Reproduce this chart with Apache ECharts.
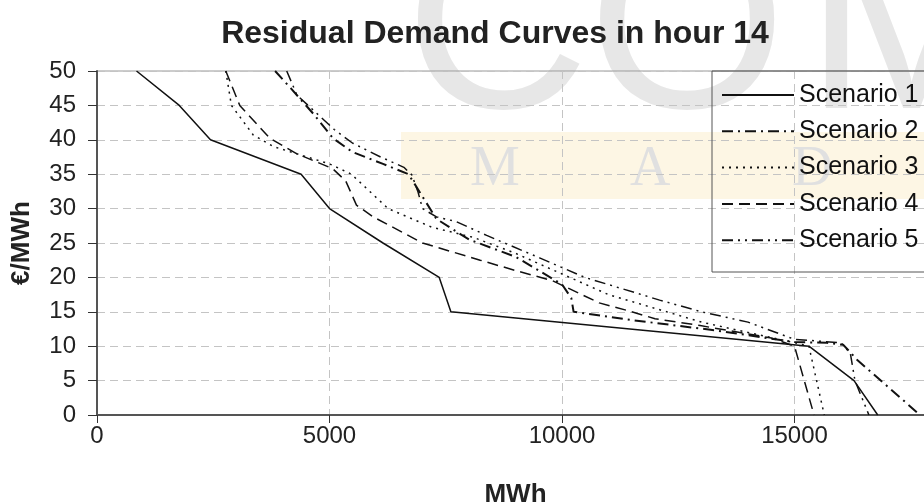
<!DOCTYPE html>
<html>
<head>
<meta charset="utf-8">
<script src="https://cdn.jsdelivr.net/npm/echarts@6/dist/echarts.min.js"></script>
<style>
  html, body { margin: 0; padding: 0; background: #fff; }
  #main { width: 924px; height: 504px; }
</style>
</head>
<body>
<div id="main"></div>
<script>
// [MWh, €/MWh] points
var scenario1 = [[850, 50], [1770, 45], [2440, 40], [4390, 35], [5000, 30], [6150, 25], [7360, 20], [7610, 15], [15310, 10], [16280, 5], [16790, 0]];
var scenario2 = [[3830, 50], [4180, 47.4], [4650, 43.8], [5080, 40.2], [5500, 38.2], [6150, 36.5], [6700, 35], [7300, 28.5], [8000, 25.5], [9000, 23], [10000, 19], [10200, 17], [10250, 15], [11500, 13.8], [13300, 12.3], [15000, 10.6], [15700, 10.5], [16050, 10.2], [16350, 8], [17700, 0]];
var scenario3 = [[2770, 50], [2890, 45], [3360, 40.7], [3800, 39], [5000, 36.5], [5470, 35], [6260, 30], [7200, 27.3], [8100, 25.8], [9000, 23.5], [10000, 20.5], [11000, 17.5], [12000, 15.5], [13000, 13.5], [14000, 12], [15000, 10.5], [15310, 10], [15640, 0]];
var scenario4 = [[2770, 50], [3070, 45], [3720, 40.2], [4290, 38], [5070, 35.8], [5350, 34], [5580, 30.5], [5940, 28.8], [7000, 25], [8240, 22.5], [9000, 21], [9800, 19.5], [10800, 16.3], [11400, 15.2], [12000, 14], [12970, 13], [14500, 11.2], [15000, 10], [15420, 0]];
var scenario5 = [[4080, 50], [4300, 46.5], [4700, 44], [5100, 41.5], [5500, 39.5], [6100, 37.5], [6600, 36], [6770, 34.9], [6900, 32.5], [7000, 30], [7300, 28.8], [7730, 28.1], [8380, 26.1], [9530, 22.8], [10490, 20], [12100, 16.7], [13000, 15], [14000, 13.5], [15000, 11], [16000, 10.5], [16200, 9], [16300, 5], [16600, 0]];

var names = ['Scenario 1', 'Scenario 2', 'Scenario 3', 'Scenario 4', 'Scenario 5'];
var allData = [scenario1, scenario2, scenario3, scenario4, scenario5];
var dashes = ['solid', [11, 5, 2, 5], [2, 5], [11, 6], [11, 5, 2, 5, 2, 5]];

var series = names.map(function (n, i) {
    return {
        name: n,
        type: 'line',
        symbol: 'none',
        data: allData[i],
        itemStyle: { color: '#111' },
        lineStyle: { color: '#111', width: i === 1 ? 2 : 1.5, type: dashes[i] }
    };
});

var option = {
    backgroundColor: '#fff',
    animation: false,
    title: {
        text: 'Residual Demand Curves in hour 14',
        left: 490,
        textAlign: 'center',
        top: 13,
        textStyle: { fontFamily: 'Liberation Sans', fontSize: 32, fontWeight: 'bold', color: '#222' }
    },
    graphic: [
        { type: 'text', z: -10, left: 405, top: -90, style: { text: 'C', font: '255px "Liberation Sans"', fill: '#e7e7e7' } },
        { type: 'text', z: -10, left: 588, top: -90, style: { text: 'O', font: '255px "Liberation Sans"', fill: '#e7e7e7' } },
        { type: 'text', z: -10, left: 805, top: -90, style: { text: 'M', font: '255px "Liberation Sans"', fill: '#e7e7e7' } },
        { type: 'rect', z: -9, shape: { x: 401, y: 132, width: 523, height: 67 }, style: { fill: '#fdf6e4' } },
        { type: 'text', z: -8, left: 470, top: 142, style: { text: 'M', font: '56px "Liberation Serif"', fill: '#e0e0e0' } },
        { type: 'text', z: -8, left: 630, top: 142, style: { text: 'A', font: '56px "Liberation Serif"', fill: '#e0e0e0' } },
        { type: 'text', z: -8, left: 792, top: 142, style: { text: 'D', font: '56px "Liberation Serif"', fill: '#e0e0e0' } }
    ],
    legend: {
        data: names,
        orient: 'vertical',
        left: 712,
        top: 71,
        itemWidth: 72,
        itemHeight: 14,
        itemGap: 11.3,
        padding: [11.5, 40, 19.3, 9],
        borderColor: '#555',
        borderWidth: 1,
        itemStyle: { opacity: 0 },
        textStyle: { fontFamily: 'Liberation Sans', fontSize: 25, color: '#111' }
    },
    grid: {
        left: 97,
        top: 71,
        width: 837,
        height: 344,
        outerBoundsMode: 'none',
        containLabel: false,
        show: true,
        borderColor: '#999',
        borderWidth: 1
    },
    xAxis: {
        type: 'value',
        min: 0,
        max: 18000,
        interval: 5000,
        name: 'MWh',
        nameLocation: 'middle',
        nameGap: 67,
        nameTextStyle: { fontFamily: 'Liberation Sans', fontSize: 26, fontWeight: 'bold', color: '#222' },
        axisLine: { lineStyle: { color: '#555', width: 2 } },
        axisTick: { length: 8, lineStyle: { color: '#333' } },
        axisLabel: {
            fontFamily: 'Liberation Sans', fontSize: 24, color: '#222', margin: 9, showMaxLabel: false,
            formatter: function (v) { return String(v); }
        },
        splitLine: { lineStyle: { color: '#c4c4c4', type: [8, 5] } }
    },
    yAxis: {
        type: 'value',
        min: 0,
        max: 50,
        interval: 5,
        name: '€/MWh',
        nameLocation: 'middle',
        nameGap: 62,
        nameRotate: 90,
        nameTextStyle: { fontFamily: 'Liberation Sans', fontSize: 26, fontWeight: 'bold', color: '#222' },
        axisLine: { show: true, lineStyle: { color: '#555', width: 2 } },
        axisTick: { show: true, length: 9, lineStyle: { color: '#333' } },
        axisLabel: { fontFamily: 'Liberation Sans', fontSize: 24, color: '#222', margin: 21 },
        splitLine: { lineStyle: { color: '#c4c4c4', type: [8, 5] } }
    },
    series: series
};

var myChart = echarts.init(document.getElementById('main'));
myChart.setOption(option);
</script>
</body>
</html>
